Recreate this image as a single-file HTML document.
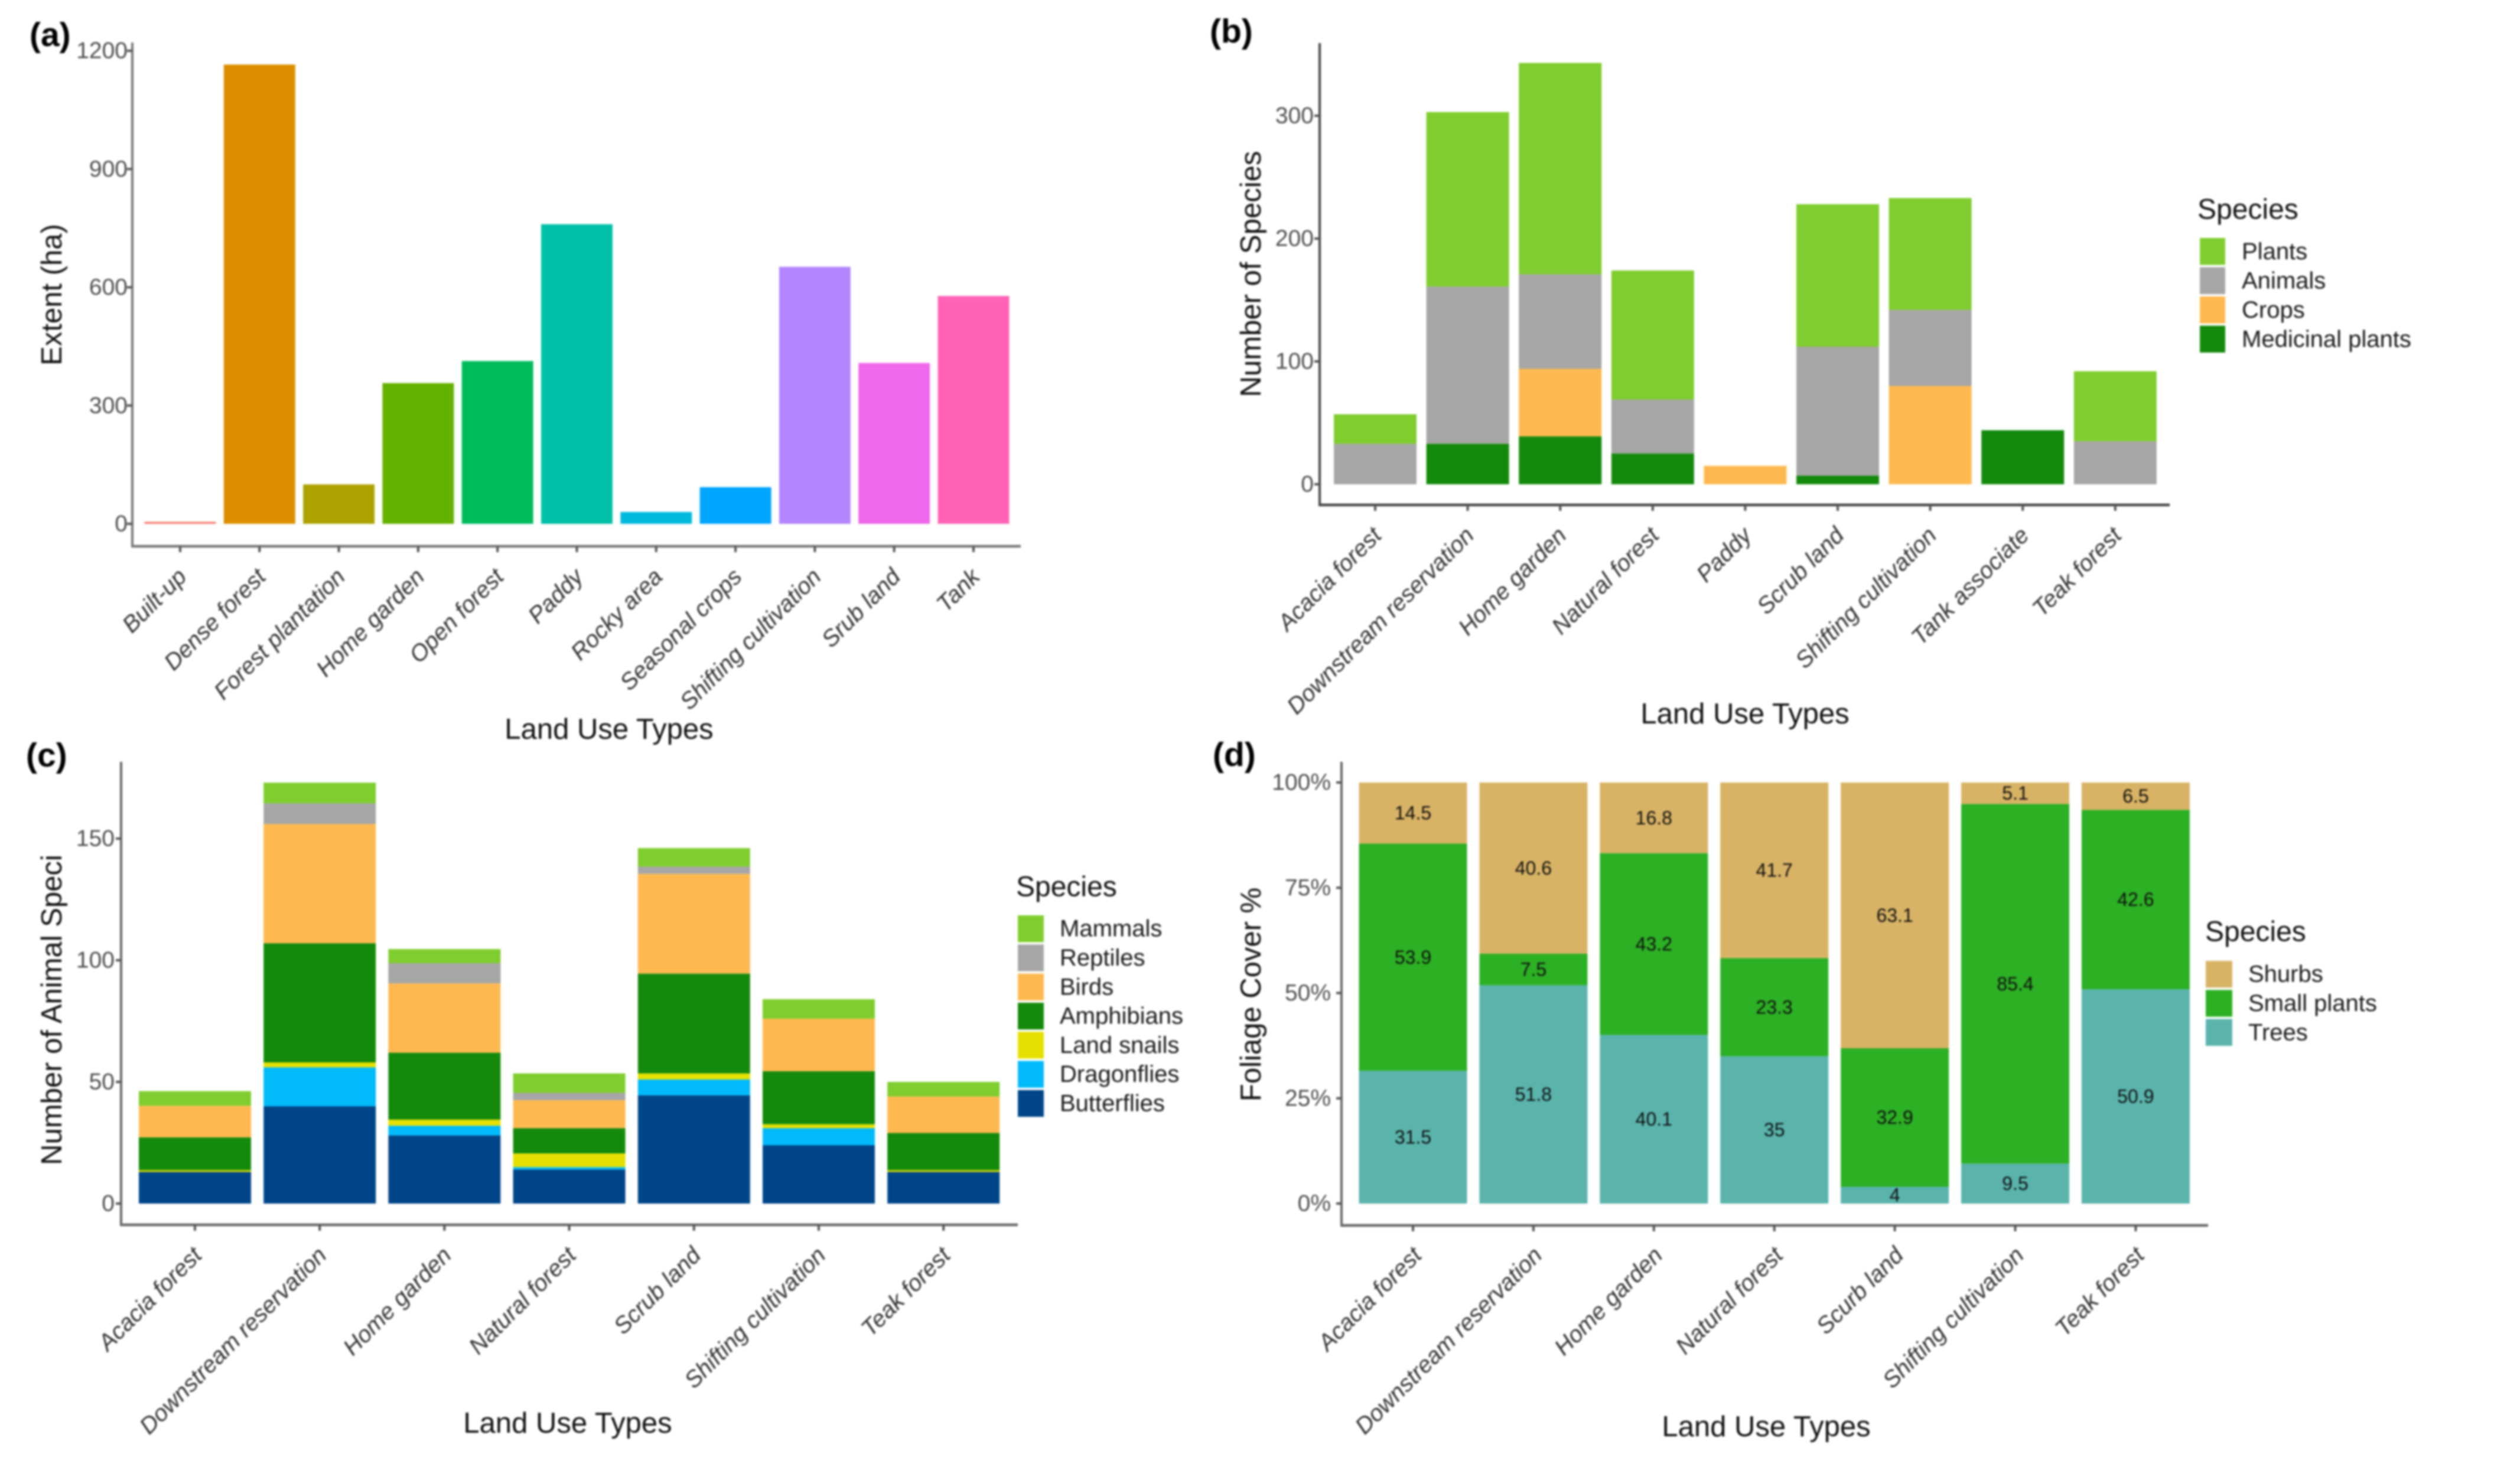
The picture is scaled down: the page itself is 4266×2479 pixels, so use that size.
<!DOCTYPE html>
<html lang="en">
<head>
<meta charset="utf-8">
<title>Land use types: extent, species richness, animal species and foliage cover</title>
<style>
html,body{margin:0;padding:0;background:#fff;width:4266px;height:2479px;overflow:hidden}
svg{display:block;filter:blur(1.5px)}
text{font-family:"Liberation Sans",sans-serif}
.letter{font-size:57px;font-weight:bold;fill:#000;dominant-baseline:central}
.axis-title{font-size:49px;fill:#111;text-anchor:middle;dominant-baseline:central}
.legend-title{font-size:48px;fill:#111;dominant-baseline:central}
.legend-label{font-size:40px;fill:#1a1a1a;dominant-baseline:central}
.y-tick{font-size:39px;fill:#4d4d4d;text-anchor:end;dominant-baseline:central}
.x-tick{font-size:39.5px;font-style:italic;fill:#333;text-anchor:end}
.value{font-size:32px;fill:#111;text-anchor:middle;dominant-baseline:central}
</style>
</head>
<body>
<svg id="figure" xmlns="http://www.w3.org/2000/svg" width="4266" height="2479" viewBox="0 0 4266 2479">
  <rect width="4266" height="2479" fill="#fff"/>

  <text class="letter" x="50" y="59">(a)</text>
  <text class="letter" x="2048" y="53">(b)</text>
  <text class="letter" x="44" y="1279">(c)</text>
  <text class="letter" x="2053" y="1278">(d)</text>

  <text class="axis-title" transform="translate(88 499) rotate(-90)">Extent (ha)</text>
  <text class="axis-title" x="1031" y="1235">Land Use Types</text>
  <text class="axis-title" transform="translate(2118 464) rotate(-90)">Number of Species</text>
  <text class="axis-title" x="2954" y="1209">Land Use Types</text>
  <text class="axis-title" transform="translate(88 1710) rotate(-90)">Number of Animal Speci</text>
  <text class="axis-title" x="961" y="2410">Land Use Types</text>
  <text class="axis-title" transform="translate(2118 1684) rotate(-90)">Foliage Cover %</text>
  <text class="axis-title" x="2990" y="2416">Land Use Types</text>

  <text class="legend-title" x="3720" y="355">Species</text>
  <text class="legend-title" x="1720" y="1502">Species</text>
  <text class="legend-title" x="3733" y="1578">Species</text>
</svg>

<script>
// Panel (a)
const aCategories = ['Built-up','Dense forest','Forest plantation','Home garden','Open forest','Paddy','Rocky area','Seasonal crops','Shifting cultivation','Srub land','Tank'];
const aExtent = [5,1165,100,357,413,760,30,93,652,408,578];
const aColors = ['#F8766D','#DB8E00','#AEA200','#64B200','#00BD5C','#00C1A7','#00BADE','#00A6FF','#B385FF','#EF67EB','#FF63B6'];
const aTicks = [0,300,600,900,1200];

// Panel (b)
const bCategories = ['Acacia forest','Downstream reservation','Home garden','Natural forest','Paddy','Scrub land','Shifting cultivation','Tank associate','Teak forest'];
const bMedicinal = [0,33,39,25,0,7,0,44,0];
const bCrops = [0,0,55,0,15,0,80,0,0];
const bAnimals = [33,128,77,44,0,105,62,0,35];
const bPlants = [24,142,172,105,0,116,91,0,57];
const bTicks = [0,100,200,300];

// Panel (c)
const cCategories = ['Acacia forest','Downstream reservation','Home garden','Natural forest','Scrub land','Shifting cultivation','Teak forest'];
const cButterflies = [13,40,28,14,44.5,24,13];
const cDragonflies = [0,16,4,1,6.5,7,0];
const cLandSnails = [0.7,2,2.5,5.6,2.5,1.6,0.7];
const cAmphibians = [13.5,49,27.5,10.4,41,21.8,15.3];
const cBirds = [13,49,28.5,11.5,41,21.6,15];
const cReptiles = [0,8.5,8.3,3,3,0,0];
const cMammals = [6,8.5,5.8,8,7.6,8,6];
const cTicks = [0,50,100,150];

// Panel (d)
const dCategories = ['Acacia forest','Downstream reservation','Home garden','Natural forest','Scurb land','Shifting cultivation','Teak forest'];
const dTrees = [31.5,51.8,40.1,35,4,9.5,50.9];
const dSmallPlants = [53.9,7.5,43.2,23.3,32.9,85.4,42.6];
const dShrubs = [14.5,40.6,16.8,41.7,63.1,5.1,6.5];
const dTicks = [0,25,50,75,100];
const dTickLabels = ['0%','25%','50%','75%','100%'];

const svg = document.getElementById('figure');
const NS = 'http://www.w3.org/2000/svg';
const GREEN = '#7FCD2E', GRAY = '#A6A6A6', ORANGE = '#FDB94F', DARKGREEN = '#148A0C';

function make(tag, attrs, text) {
  const el = document.createElementNS(NS, tag);
  for (const k in attrs) el.setAttribute(k, attrs[k]);
  if (text !== undefined) el.textContent = text;
  svg.appendChild(el);
  return el;
}
function slug(s) { return String(s).toLowerCase().replace(/[^a-z0-9]+/g, '-'); }

// Axis functions: x band centre and y linear scale per panel
const axes = {
  a: { left:224, bottom:925, right:1728, top:72, x0:305, step:134.3, barW:121, y0:887, unit:0.6675, gap:8, dx:13, dy:54, axisColor:'#777' },
  b: { left:2234, bottom:855, right:3673, top:73, x0:2328, step:156.6, barW:140, y0:820, unit:2.08, gap:10, dx:13, dy:54, axisColor:'#444' },
  c: { left:205, bottom:2074, right:1723, top:1290, x0:330, step:211.2, barW:190, y0:2038, unit:4.12, gap:11, dx:14, dy:54, axisColor:'#666' },
  d: { left:2271, bottom:2075, right:3738, top:1290, x0:2392, step:203.9, barW:183, y0:2038, unit:7.13, gap:18, dx:17, dy:53, axisColor:'#666' }
};
function xCenter(ax, i) { return ax.x0 + ax.step * i; }
function yPos(ax, v) { return ax.y0 - ax.unit * v; }

function drawAxes(key, categories, ticks, tickLabels) {
  const ax = axes[key];
  const yLine = make('line', {x1:ax.left, x2:ax.left, y1:ax.top, y2:ax.bottom + 2, stroke:ax.axisColor, 'stroke-width':4});
  
  
  const xLine = make('line', {x1:ax.left - 2, x2:ax.right, y1:ax.bottom, y2:ax.bottom, stroke:ax.axisColor, 'stroke-width':4.5});
  
  
  ticks.forEach((t, i) => {
    const y = yPos(ax, t);
    const mark = make('line', {x1:ax.left - 9, x2:ax.left, y1:y, y2:y, stroke:'#555', 'stroke-width':4});
    
    
    const label = make('text', {class:'y-tick', x:ax.left - ax.gap, y:y}, tickLabels ? tickLabels[i] : t);
    
    
  });
  categories.forEach((c, i) => {
    const x = xCenter(ax, i);
    const mark = make('line', {x1:x, x2:x, y1:ax.bottom, y2:ax.bottom + 10, stroke:'#555', 'stroke-width':4});
    
    
    const label = make('text', {class:'x-tick', transform:'translate(' + (x + ax.dx) + ' ' + (ax.bottom + ax.dy) + ') rotate(-45)'}, c);
    
    
  });
}

function drawStack(key, categories, seriesList) {
  const ax = axes[key];
  categories.forEach((c, i) => {
    let cum = 0;
    seriesList.forEach(s => {
      const v = s.values[i];
      if (v <= 0) return;
      const yTop = yPos(ax, cum + v);
      const yBot = yPos(ax, cum);
      const bar = make('rect', {x:xCenter(ax, i) - ax.barW / 2, y:yTop, width:ax.barW, height:yBot - yTop, fill:s.color});
      
      
      cum += v;
    });
  });
}

function drawLegend(key, seriesTopDown, keyX, keyW, textX, topY, rowH) {
  seriesTopDown.forEach((s, i) => {
    const y = topY + rowH * i;
    const swatch = make('rect', {x:keyX, y:y + 2, width:keyW, height:rowH - 4, fill:s.color});
    
    
    const label = make('text', {class:'legend-label', x:textX, y:y + rowH / 2}, s.name);
    
    
  });
}

// Draw panel (a)
aCategories.forEach((c, i) => {
  const ax = axes.a;
  const y = yPos(ax, aExtent[i]);
  const bar = make('rect', {x:xCenter(ax, i) - ax.barW / 2, y:y, width:ax.barW, height:ax.y0 - y, fill:aColors[i]});
  
  
});
drawAxes('a', aCategories, aTicks);

// Draw panel (b)
const bSeries = [
  {name:'Medicinal plants', values:bMedicinal, color:DARKGREEN},
  {name:'Crops', values:bCrops, color:ORANGE},
  {name:'Animals', values:bAnimals, color:GRAY},
  {name:'Plants', values:bPlants, color:GREEN}
];
drawStack('b', bCategories, bSeries);
drawAxes('b', bCategories, bTicks);
drawLegend('b', bSeries.slice().reverse(), 3724, 43, 3795, 401, 49.5);

// Draw panel (c)
const cSeries = [
  {name:'Butterflies', values:cButterflies, color:'#004588'},
  {name:'Dragonflies', values:cDragonflies, color:'#00BAFA'},
  {name:'Land snails', values:cLandSnails, color:'#E6E000'},
  {name:'Amphibians', values:cAmphibians, color:DARKGREEN},
  {name:'Birds', values:cBirds, color:ORANGE},
  {name:'Reptiles', values:cReptiles, color:GRAY},
  {name:'Mammals', values:cMammals, color:GREEN}
];
drawStack('c', cCategories, cSeries);
drawAxes('c', cCategories, cTicks);
drawLegend('c', cSeries.slice().reverse(), 1723, 44, 1794, 1548, 49.3);

// Draw panel (d): proportional stack with printed values
const dSeries = [
  {name:'Trees', raw:dTrees, color:'#5AB4AC'},
  {name:'Small plants', raw:dSmallPlants, color:'#2CB024'},
  {name:'Shurbs', raw:dShrubs, color:'#D8B365'}
];
const dTotals = dCategories.map((c, i) => dTrees[i] + dSmallPlants[i] + dShrubs[i]);
dSeries.forEach(s => { s.values = s.raw.map((v, i) => v / dTotals[i] * 100); });
drawStack('d', dCategories, dSeries);
drawAxes('d', dCategories, dTicks, dTickLabels);
dCategories.forEach((c, i) => {
  let cum = 0;
  dSeries.forEach(s => {
    const v = s.values[i];
    const label = make('text', {class:'value', x:xCenter(axes.d, i), y:yPos(axes.d, cum + v / 2)}, s.raw[i]);
    
    
    cum += v;
  });
});
drawLegend('d', dSeries.slice().reverse(), 3734, 45, 3806, 1625, 49.3);
</script>
</body>
</html>
